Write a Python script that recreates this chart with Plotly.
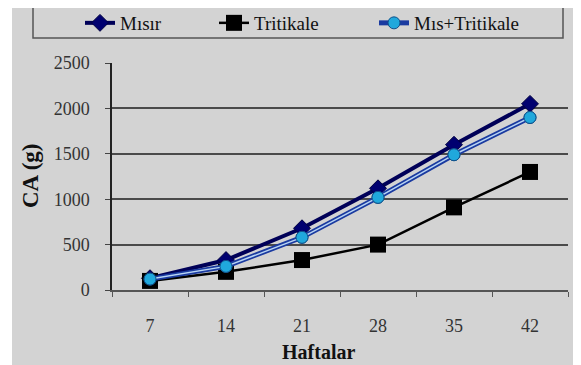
import plotly.graph_objects as go

weeks = ["7", "14", "21", "28", "35", "42"]
misir = [130, 330, 680, 1120, 1600, 2050]
tritikale = [100, 200, 330, 500, 910, 1300]
mis_tritikale = [120, 260, 580, 1020, 1490, 1900]
yticks = [0, 500, 1000, 1500, 2000, 2500]

W, H = 581, 365
OFF = 8  # the page body margin shifts the figure by this many pixels
L, R, T, B = 112, 568, 63, 290  # plot area in screen pixels


def px(x):
    return (x - L) / (R - L)


def py(y):
    return (B - y) / (B - T)


def cx(x):
    return (x - OFF) / W


def cy(y):
    return 1 - (y - OFF) / H


GRAY = "#d3d3d3"
FONT = "Liberation Serif, Times New Roman, serif"

fig = go.Figure()
fig.add_trace(go.Scatter(
    x=weeks, y=misir, name="Mısır", mode="lines+markers",
    line=dict(color="#000058", width=4),
    marker=dict(symbol="diamond", size=13, color="#000070", line=dict(color="#000040", width=1)),
    legend="legend"))
fig.add_trace(go.Scatter(
    x=weeks, y=tritikale, name="Tritikale", mode="lines+markers",
    line=dict(color="#000000", width=2.5),
    marker=dict(symbol="square", size=16, color="#000000"),
    legend="legend2"))
fig.add_trace(go.Scatter(
    x=weeks, y=mis_tritikale, name="Mıs+Tritikale", mode="lines+markers",
    line=dict(color="#1a3aa0", width=5),
    marker=dict(symbol="circle", size=12, color="#20a8dc", line=dict(color="#10508a", width=1)),
    legend="legend3"))
fig.add_trace(go.Scatter(
    x=weeks, y=mis_tritikale, name="Mıs+Tritikale", mode="lines+markers", showlegend=False,
    line=dict(color="#b8d4f4", width=1.5),
    marker=dict(symbol="circle", size=12, color="#20a8dc", line=dict(color="#10508a", width=1)),
    hoverinfo="skip"))

leg_common = dict(orientation="h", xref="container", yref="container",
                  yanchor="middle", y=cy(23), xanchor="left",
                  bgcolor="rgba(0,0,0,0)", borderwidth=0,
                  font=dict(family=FONT, size=19, color="#111111"))

fig.update_layout(
    width=W, height=H,
    showlegend=True,
    margin=dict(l=L - OFF, r=W - R + OFF, t=T - OFF, b=H - B + OFF, pad=0, autoexpand=False),
    paper_bgcolor="white",
    plot_bgcolor=GRAY,
    font=dict(family=FONT, size=18, color="#333333"),
    legend=dict(x=cx(80), **leg_common),
    legend2=dict(x=cx(214), **leg_common),
    legend3=dict(x=cx(374), **leg_common),
    xaxis=dict(type="category", range=[-0.5, 5.5], showgrid=False,
               showline=True, linecolor="#555555", linewidth=2,
               ticks="outside", tickson="boundaries", ticklen=5, tickcolor="#555555",
               ticklabelstandoff=18, tickfont=dict(size=18, color="#333333")),
    yaxis=dict(range=[0, 2500], tickvals=yticks, showgrid=True, gridcolor="#4a4a4a", gridwidth=1.8,
               showline=True, linecolor="#222222", linewidth=1.5, zeroline=False,
               ticks="outside", ticklen=5, tickcolor="#444444",
               ticklabelstandoff=12, tickfont=dict(size=18, color="#333333")),
    shapes=[
        dict(type="rect", xref="paper", yref="paper", x0=px(12), x1=px(W + 20), y0=py(H + 20), y1=py(8),
             fillcolor=GRAY, line=dict(width=0), layer="below"),
        dict(type="rect", xref="paper", yref="paper", x0=px(33), x1=px(563), y0=py(38), y1=py(4),
             fillcolor="rgba(0,0,0,0)", line=dict(color="#555555", width=1.5), layer="above"),
    ],
    annotations=[
        dict(text="<b>Haftalar</b>", xref="paper", yref="paper", x=px(318), y=py(352),
             xanchor="center", yanchor="middle", showarrow=False,
             font=dict(family=FONT, size=20, color="#111111")),
        dict(text="<b>CA (g)</b>", xref="paper", yref="paper", x=px(30), y=py(176),
             xanchor="center", yanchor="middle", showarrow=False, textangle=-90,
             font=dict(family=FONT, size=23, color="#111111")),
    ],
)

fig.write_html("out.html")
